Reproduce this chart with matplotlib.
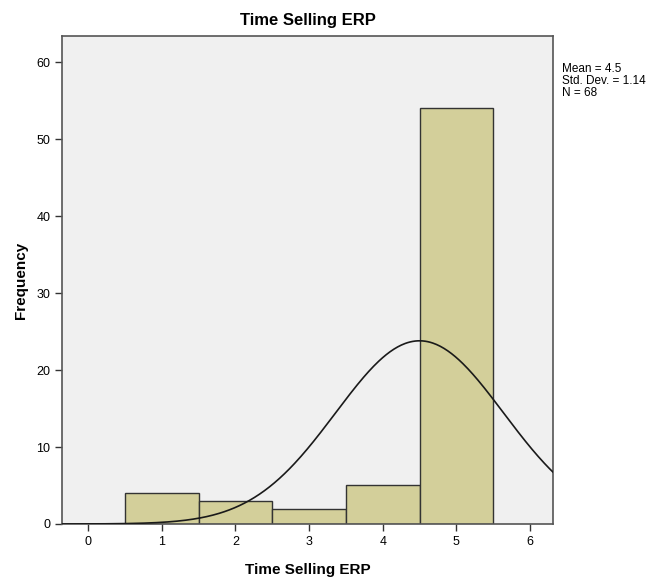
import numpy as np
import matplotlib
matplotlib.use('Agg')
import matplotlib.pyplot as plt

plt.rcParams['font.family'] = ['Liberation Sans', 'DejaVu Sans']

# histogram data
categories = [1, 2, 3, 4, 5]
counts = [4, 3, 2, 5, 54]
mean_val = 4.5 ; sd_val = 1.14 ; n_val = 68
xticks = [0, 1, 2, 3, 4, 5, 6]
yticks = [0, 10, 20, 30, 40, 50, 60]

fig = plt.figure(figsize=(6.62, 5.82), dpi=100)
ax = fig.add_axes([0.0937, 0.0997, 0.7417, 0.8385])
ax.set_facecolor('#F0F0F0')

ax.bar(categories, counts, width=1.0, color='#D3CF9A', edgecolor='#333333', linewidth=1.0, zorder=2)

xs = np.linspace(-0.4, 6.4, 400)
ys = n_val * 1.0 / (sd_val * np.sqrt(2 * np.pi)) * np.exp(-0.5 * ((xs - mean_val) / sd_val) ** 2)
ax.plot(xs, ys, color='#1a1a1a', linewidth=1.2, zorder=3)

ax.set_xlim(-0.353, 6.312)
ax.set_ylim(0, 63.4)
ax.set_xticks(xticks)
ax.set_yticks(yticks)
ax.tick_params(labelsize=9, length=5, width=1, color='#333333')
for s in ax.spines.values():
    s.set_color('#555555') ; s.set_linewidth(1.2)

ax.set_title('Time Selling ERP', fontsize=12, fontweight='bold', pad=8)
ax.set_xlabel('Time Selling ERP', fontsize=11, fontweight='bold', labelpad=11)
ax.set_ylabel('Frequency', fontsize=11, fontweight='bold', labelpad=6)

fig.text(562 / 662, 1 - 63 / 582, 'Mean = %.1f\nStd. Dev. = %.2f\nN = %d' % (mean_val, sd_val, n_val),
         fontsize=8.5, va='top', ha='left', linespacing=1.0)

fig.savefig('out.png', dpi=100)
